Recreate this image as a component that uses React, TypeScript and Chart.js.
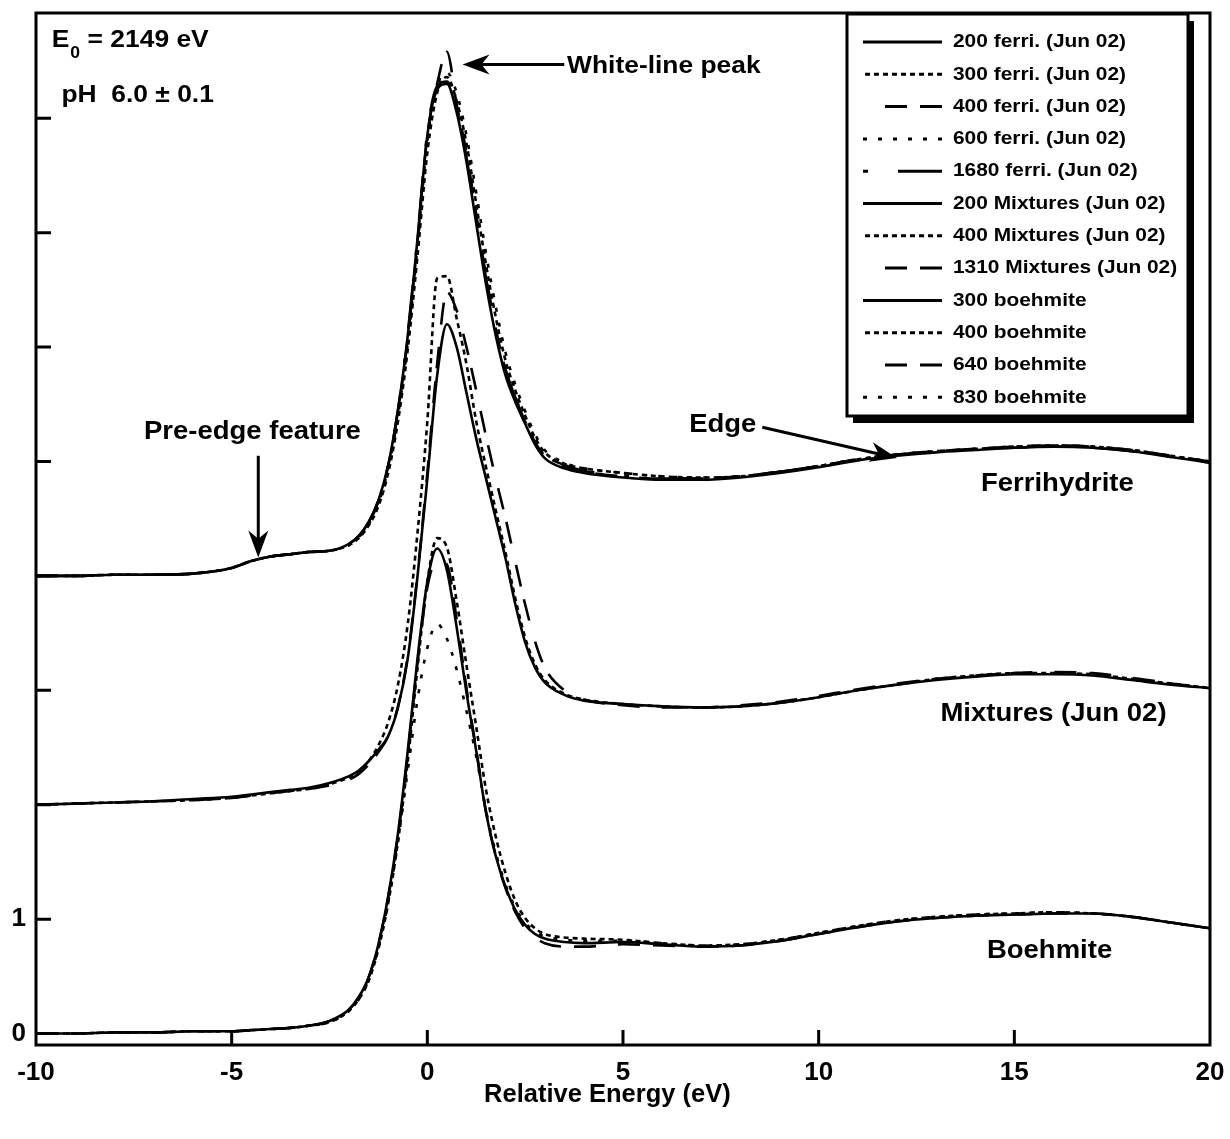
import React, { useEffect, useRef } from 'react';
import { Chart, registerables } from 'chart.js';

Chart.register(...registerables);

// ---------------- data ----------------
const energy = [
  -10, -9, -8, -7, -6, -5, -4.5, -4, -3.5, -3,
  -2.5, -2, -1.75, -1.5, -1.25, -1, -0.75, -0.5, -0.25, 0,
  0.25, 0.5, 0.75, 1, 1.25, 1.5, 1.75, 2, 2.25, 2.5,
  2.75, 3, 3.5, 4, 5, 6, 7, 8, 9, 10,
  11, 12, 13, 14, 15, 16, 17, 18, 19, 20,
];

const ferri200 = [
  4.00, 4.00, 4.01, 4.01, 4.02, 4.07, 4.13, 4.17, 4.19, 4.21,
  4.22, 4.28, 4.35, 4.47, 4.66, 4.97, 5.45, 6.10, 6.95, 7.85,
  8.25, 8.30, 8.05, 7.62, 7.08, 6.55, 6.10, 5.75, 5.52, 5.33,
  5.15, 5.03, 4.94, 4.90, 4.86, 4.84, 4.84, 4.86, 4.90, 4.95,
  5.01, 5.05, 5.08, 5.10, 5.12, 5.13, 5.12, 5.09, 5.04, 4.99,
];
const ferri300 = [
  4.00, 4.00, 4.01, 4.01, 4.02, 4.07, 4.13, 4.17, 4.19, 4.21,
  4.22, 4.27, 4.33, 4.44, 4.61, 4.90, 5.35, 5.98, 6.80, 7.70,
  8.22, 8.36, 8.15, 7.78, 7.25, 6.72, 6.26, 5.88, 5.62, 5.40,
  5.21, 5.08, 4.98, 4.94, 4.90, 4.87, 4.86, 4.87, 4.91, 4.96,
  5.02, 5.06, 5.09, 5.11, 5.13, 5.14, 5.13, 5.10, 5.05, 5.00,
];
const ferri400 = [
  4.00, 4.00, 4.01, 4.01, 4.02, 4.07, 4.13, 4.17, 4.19, 4.21,
  4.22, 4.28, 4.35, 4.46, 4.65, 4.96, 5.43, 6.08, 6.93, 7.85,
  8.30, 8.58, 8.12, 7.70, 7.16, 6.62, 6.16, 5.80, 5.55, 5.35,
  5.17, 5.05, 4.95, 4.91, 4.87, 4.85, 4.85, 4.87, 4.91, 4.96,
  5.02, 5.06, 5.09, 5.11, 5.13, 5.14, 5.13, 5.10, 5.05, 5.00,
];
const ferri600 = [
  4.00, 4.00, 4.01, 4.01, 4.02, 4.07, 4.13, 4.17, 4.19, 4.21,
  4.22, 4.27, 4.34, 4.45, 4.63, 4.94, 5.40, 6.04, 6.88, 7.80,
  8.28, 8.40, 8.22, 7.85, 7.35, 6.82, 6.35, 5.95, 5.67, 5.44,
  5.24, 5.10, 4.99, 4.94, 4.90, 4.87, 4.86, 4.87, 4.91, 4.96,
  5.02, 5.06, 5.09, 5.11, 5.13, 5.14, 5.13, 5.10, 5.05, 5.00,
];
const ferri1680 = [
  4.00, 4.00, 4.01, 4.01, 4.02, 4.07, 4.13, 4.17, 4.19, 4.21,
  4.22, 4.28, 4.35, 4.47, 4.66, 4.97, 5.45, 6.12, 6.97, 7.88,
  8.28, 8.32, 8.08, 7.66, 7.12, 6.60, 6.15, 5.80, 5.56, 5.36,
  5.18, 5.06, 4.97, 4.92, 4.88, 4.85, 4.85, 4.87, 4.91, 4.96,
  5.02, 5.06, 5.09, 5.11, 5.12, 5.13, 5.12, 5.09, 5.04, 4.99,
];
const mix200 = [
  2.00, 2.01, 2.02, 2.03, 2.05, 2.07, 2.09, 2.11, 2.13, 2.15,
  2.19, 2.25, 2.30, 2.38, 2.48, 2.60, 2.85, 3.28, 4.00, 4.85,
  5.75, 6.20, 6.00, 5.60, 5.20, 4.85, 4.50, 4.15, 3.75, 3.42,
  3.20, 3.07, 2.96, 2.91, 2.88, 2.86, 2.85, 2.86, 2.89, 2.94,
  3.00, 3.05, 3.09, 3.12, 3.14, 3.14, 3.13, 3.09, 3.05, 3.02,
];
const mix400 = [
  2.00, 2.01, 2.02, 2.03, 2.04, 2.06, 2.08, 2.10, 2.12, 2.14,
  2.18, 2.24, 2.29, 2.38, 2.52, 2.72, 3.05, 3.58, 4.38, 5.35,
  6.60, 6.62, 6.25, 5.85, 5.35, 4.95, 4.57, 4.20, 3.80, 3.46,
  3.23, 3.09, 2.97, 2.92, 2.88, 2.86, 2.85, 2.86, 2.89, 2.94,
  3.00, 3.05, 3.10, 3.13, 3.15, 3.15, 3.14, 3.10, 3.06, 3.02,
];
const mix1310 = [
  2.00, 2.01, 2.02, 2.03, 2.04, 2.06, 2.08, 2.10, 2.12, 2.14,
  2.17, 2.22, 2.27, 2.35, 2.46, 2.60, 2.86, 3.30, 4.02, 4.90,
  5.85, 6.48, 6.32, 6.00, 5.62, 5.22, 4.85, 4.50, 4.12, 3.75,
  3.43, 3.20, 3.00, 2.92, 2.87, 2.85, 2.85, 2.87, 2.90, 2.95,
  3.01, 3.06, 3.10, 3.13, 3.15, 3.16, 3.15, 3.11, 3.06, 3.02,
];
const boeh300 = [
  0.00, 0.00, 0.01, 0.01, 0.02, 0.02, 0.03, 0.04, 0.05, 0.07,
  0.11, 0.21, 0.32, 0.49, 0.78, 1.20, 1.75, 2.47, 3.28, 3.95,
  4.24, 4.05, 3.55, 2.98, 2.47, 1.93, 1.55, 1.28, 1.08, 0.95,
  0.87, 0.83, 0.80, 0.79, 0.80, 0.78, 0.76, 0.77, 0.81, 0.87,
  0.93, 0.98, 1.01, 1.03, 1.04, 1.05, 1.05, 1.02, 0.97, 0.92,
];
const boeh400 = [
  0.00, 0.00, 0.01, 0.01, 0.02, 0.02, 0.03, 0.04, 0.05, 0.07,
  0.10, 0.20, 0.30, 0.46, 0.74, 1.14, 1.68, 2.38, 3.20, 3.95,
  4.33, 4.25, 3.78, 3.22, 2.68, 2.13, 1.72, 1.40, 1.16, 1.01,
  0.92, 0.87, 0.84, 0.83, 0.82, 0.79, 0.77, 0.78, 0.82, 0.88,
  0.94, 0.99, 1.02, 1.04, 1.05, 1.06, 1.05, 1.02, 0.97, 0.92,
];
const boeh640 = [
  0.00, 0.00, 0.01, 0.01, 0.02, 0.02, 0.03, 0.04, 0.05, 0.07,
  0.11, 0.21, 0.32, 0.49, 0.78, 1.19, 1.73, 2.44, 3.24, 3.90,
  4.14, 4.10, 3.62, 3.02, 2.48, 1.94, 1.55, 1.27, 1.06, 0.92,
  0.84, 0.79, 0.76, 0.76, 0.78, 0.77, 0.76, 0.77, 0.81, 0.87,
  0.93, 0.98, 1.01, 1.03, 1.04, 1.05, 1.05, 1.02, 0.97, 0.92,
];
const boeh830 = [
  0.00, 0.00, 0.01, 0.01, 0.02, 0.02, 0.03, 0.04, 0.05, 0.07,
  0.10, 0.20, 0.30, 0.47, 0.75, 1.15, 1.68, 2.30, 2.92, 3.37,
  3.58, 3.45, 3.18, 2.82, 2.42, 1.95, 1.58, 1.30, 1.10, 0.97,
  0.89, 0.85, 0.82, 0.81, 0.81, 0.79, 0.77, 0.78, 0.82, 0.88,
  0.94, 0.99, 1.02, 1.04, 1.05, 1.06, 1.05, 1.02, 0.97, 0.92,
];

const seriesLabels = [
  '200 ferri. (Jun 02)', '300 ferri. (Jun 02)', '400 ferri. (Jun 02)',
  '600 ferri. (Jun 02)', '1680 ferri. (Jun 02)', '200 Mixtures (Jun 02)',
  '400 Mixtures (Jun 02)', '1310 Mixtures (Jun 02)', '300 boehmite',
  '400 boehmite', '640 boehmite', '830 boehmite',
];
const seriesValues = [
  ferri200, ferri300, ferri400, ferri600, ferri1680,
  mix200, mix400, mix1310,
  boeh300, boeh400, boeh640, boeh830,
];
const xTickValues = [-10, -5, 0, 5, 10, 15, 20];
const yTickValues = [0, 1, 2, 3, 4, 5, 6, 7, 8];
const yLabelledTicks = [0, 1];
const xAxisTitle = 'Relative Energy (eV)';

// ---------------- styles ----------------
const FONT = "'Liberation Sans', Arial, Helvetica, sans-serif";
const SOLID: number[] = [];
const DOTTED = [5, 4];
const LONGDASH = [22, 13, 22, 22];
const SPARSE = [4, 11];
const DASHDOT = [44, 30, 5, 30];
const seriesDashes = [
  SOLID, DOTTED, LONGDASH, SPARSE, DASHDOT,
  SOLID, DOTTED, LONGDASH,
  SOLID, DOTTED, LONGDASH, SPARSE,
];
const STRETCH = 1.1;

function drawText(ctx: CanvasRenderingContext2D, text: string, x: number, y: number,
  size: number, align: 'left' | 'center' | 'right' = 'left', stretch = STRETCH) {
  ctx.save();
  ctx.font = `bold ${size}px ${FONT}`;
  ctx.textBaseline = 'middle';
  ctx.textAlign = 'left';
  const w = ctx.measureText(text).width * stretch;
  let x0 = x;
  if (align === 'center') x0 = x - w / 2;
  if (align === 'right') x0 = x - w;
  ctx.translate(x0, y);
  ctx.scale(stretch, 1);
  ctx.fillStyle = '#000';
  ctx.fillText(text, 0, 0);
  ctx.restore();
  return w;
}

function drawArrow(ctx: CanvasRenderingContext2D, x1: number, y1: number, x2: number, y2: number) {
  const ang = Math.atan2(y2 - y1, x2 - x1);
  const len = 27;
  const half = 10;
  ctx.save();
  ctx.strokeStyle = '#000';
  ctx.fillStyle = '#000';
  ctx.lineWidth = 3;
  ctx.setLineDash([]);
  ctx.beginPath();
  ctx.moveTo(x1, y1);
  ctx.lineTo(x2 - Math.cos(ang) * len * 0.6, y2 - Math.sin(ang) * len * 0.6);
  ctx.stroke();
  ctx.translate(x2, y2);
  ctx.rotate(ang);
  ctx.beginPath();
  ctx.moveTo(0, 0);
  ctx.lineTo(-len, -half);
  ctx.lineTo(-len * 0.7, 0);
  ctx.lineTo(-len, half);
  ctx.closePath();
  ctx.fill();
  ctx.restore();
}

const overlayPlugin = {
  id: 'overlay',
  afterDraw(chart: any) {
    const { ctx, chartArea: ca, scales } = chart;
    const xs = scales.x;
    const ys = scales.y;
    const px = (v: number) => xs.getPixelForValue(v);
    const py = (v: number) => ys.getPixelForValue(v);
    ctx.save();
    ctx.strokeStyle = '#000';
    ctx.lineWidth = 3;
    ctx.setLineDash([]);
    // frame
    ctx.strokeRect(ca.left, ca.top, ca.right - ca.left, ca.bottom - ca.top);
    // inward ticks
    ctx.beginPath();
    xTickValues.forEach((v) => {
      const x = px(v);
      if (x <= ca.left + 2 || x >= ca.right - 2) return;
      ctx.moveTo(x, ca.bottom);
      ctx.lineTo(x, ca.bottom - 15);
    });
    yTickValues.forEach((v) => {
      const y = py(v);
      ctx.moveTo(ca.left, y);
      ctx.lineTo(ca.left + 15, y);
    });
    ctx.stroke();

    // x-axis title
    drawText(ctx, xAxisTitle, px(4.6), ca.bottom + 50, 25, 'center', 1.02);

    // corner notes
    let x0 = px(-9.6);
    const yE = py(8.68);
    x0 += drawText(ctx, 'E', x0, yE, 24);
    drawText(ctx, '0', x0 + 1, yE + 13, 16);
    drawText(ctx, ' = 2149 eV', x0 + 11, yE, 24);
    drawText(ctx, 'pH  6.0 \u00b1 0.1', px(-9.35), py(8.2), 24);

    // feature notes + arrows
    drawText(ctx, 'White-line peak', px(3.57), py(8.45), 24);
    drawArrow(ctx, px(3.5), py(8.47), px(0.9), py(8.47));
    drawText(ctx, 'Pre-edge feature', px(-4.47), py(5.26), 25, 'center');
    drawArrow(ctx, px(-4.32), py(5.05), px(-4.32), py(4.16));
    drawText(ctx, 'Edge', px(6.69), py(5.32), 25);
    drawArrow(ctx, px(8.56), py(5.30), px(12.0), py(5.03));
    drawText(ctx, 'Ferrihydrite', px(16.1), py(4.8), 25, 'center');
    drawText(ctx, 'Mixtures (Jun 02)', px(16.0), py(2.79), 25, 'center');
    drawText(ctx, 'Boehmite', px(15.9), py(0.72), 25, 'center');

    // legend box with shadow
    const bw = 341;
    const bh = 402;
    const bx = ca.right - 22 - bw;
    const by = ca.top + 1;
    ctx.fillStyle = '#000';
    ctx.fillRect(bx + 6, by + 7, bw, bh);
    ctx.fillStyle = '#fff';
    ctx.fillRect(bx, by, bw, bh);
    ctx.lineWidth = 3;
    ctx.strokeRect(bx, by, bw, bh);
    const rowH = 32.3;
    chart.data.datasets.forEach((ds: any, i: number) => {
      const y = by + 28 + i * rowH;
      ctx.save();
      ctx.lineWidth = 3;
      ctx.setLineDash(ds.borderDash || []);
      ctx.beginPath();
      ctx.moveTo(bx + 95, y);
      ctx.lineTo(bx + 16, y);
      ctx.stroke();
      ctx.restore();
      drawText(ctx, ds.label, bx + 106, y, 19);
    });
    ctx.restore();
  },
};

export default function App() {
  const ref = useRef<HTMLCanvasElement | null>(null);
  useEffect(() => {
    if (!ref.current) return;
    const datasets = seriesValues.map((vals, i) => ({
      label: seriesLabels[i],
      data: energy.map((e, k) => ({ x: e, y: vals[k] })),
      borderColor: '#000',
      backgroundColor: '#000',
      borderWidth: 2.6,
      borderDash: seriesDashes[i],
      pointRadius: 0,
      fill: false,
      cubicInterpolationMode: 'monotone' as const,
    }));
    const tickFont = { family: FONT, size: 26, weight: 'bold' as const };
    const chart = new Chart(ref.current, {
      type: 'line',
      data: { datasets },
      options: {
        responsive: false,
        animation: false,
        devicePixelRatio: 1,
        layout: { padding: { left: 0, top: 13, right: 20, bottom: 0 } },
        plugins: { legend: { display: false }, tooltip: { enabled: false } },
        scales: {
          x: {
            type: 'linear',
            min: -10,
            max: 20,
            grid: { display: false, drawTicks: false },
            border: { display: false },
            afterBuildTicks: (s: any) => { s.ticks = xTickValues.map((v) => ({ value: v })); },
            ticks: { color: '#000', font: tickFont, padding: 12, maxRotation: 0, autoSkip: false },
            title: { display: false },
            afterFit: (s: any) => {
              s.height = 94;
              s.paddingLeft = 0;
              s.paddingRight = 0;
            },
          },
          y: {
            type: 'linear',
            min: -0.1,
            max: 8.92,
            grid: { display: false, drawTicks: false },
            border: { display: false },
            afterBuildTicks: (s: any) => { s.ticks = yTickValues.map((v) => ({ value: v })); },
            ticks: {
              color: '#000',
              font: tickFont,
              padding: 10,
              autoSkip: false,
              callback: (v: any) => (yLabelledTicks.includes(Number(v)) ? String(v) : ''),
            },
            afterFit: (s: any) => {
              s.width = 36;
              s.paddingTop = 0;
              s.paddingBottom = 0;
            },
          },
        },
      },
      plugins: [overlayPlugin],
    });
    return () => chart.destroy();
  }, []);
  return (
    <div style={{ position: 'absolute', left: 0, top: 0, width: 1230, height: 1139, background: '#fff' }}>
      <canvas ref={ref} width={1230} height={1139} style={{ display: 'block' }} />
    </div>
  );
}
